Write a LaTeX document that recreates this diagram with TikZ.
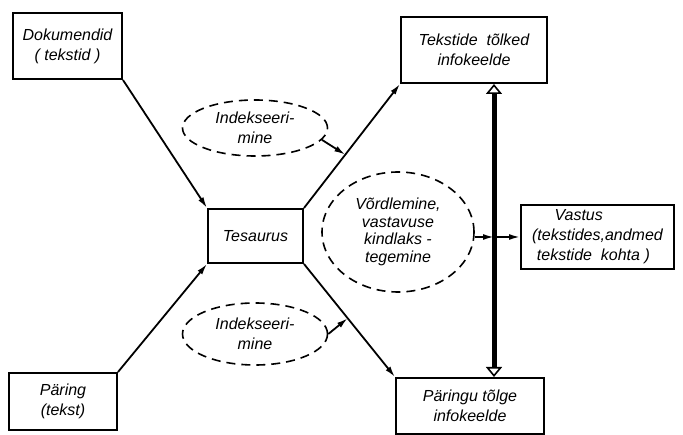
\documentclass[tikz,border=0pt]{standalone}
\usepackage{fontspec}
\setmainfont{Liberation Sans}
\usetikzlibrary{shapes.geometric}
\usetikzlibrary{arrows.meta}

\begin{document}
\begin{tikzpicture}[x=1pt,y=-1pt,>={Latex[length=11pt,width=6pt]},
  box/.style={draw, line width=2pt, inner sep=0pt, align=center, font=\fontsize{16}{20}\selectfont\itshape},
  oval/.style={ellipse, draw, dash pattern=on 9pt off 6pt, line width=1.6pt, inner sep=0pt, align=center, font=\fontsize{16}{20}\selectfont\itshape},
  link/.style={->, line width=1.8pt},
  bus/.style={{Triangle[open,length=10pt,width=16pt,line width=1.6pt]}-{Triangle[open,length=10pt,width=16pt,line width=1.6pt]}, line width=5pt}]
			\useasboundingbox (0,0) rectangle (683,435);
			% Boxes
			\node[box, minimum width=109pt, minimum height=66pt] (dok) at (67.5,46) {Dokumendid\\( tekstid )};
			\node[box, minimum width=146pt, minimum height=66pt] (tt) at (474,50) {Tekstide\ \ tõlked\\infokeelde};
			\node[box, minimum width=95pt, minimum height=54pt] (tes) at (255.5,236) {Tesaurus};
			\node[box, minimum width=153pt, minimum height=64pt, align=left] (vs) at (597.5,237) {\hspace{1.4em}Vastus\\(tekstides,andmed\\\hspace{0.3em}tekstide\ \ kohta )};
			\node[box, minimum width=108pt, minimum height=57pt] (par) at (63,401.5) {Päring\\(tekst)};
			\node[box, minimum width=148pt, minimum height=56pt] (pt) at (470,406) {Päringu\ tõlge\\infokeelde};
			
			% Dashed ellipses
			\node[oval, minimum width=145pt, minimum height=56pt] (ie1) at (255,128) {Indekseeri-\\mine};
			\node[oval, minimum width=145pt, minimum height=62pt] (ie2) at (255,334) {Indekseeri-\\mine};
			\node[oval, minimum width=152pt, minimum height=120pt, font=\fontsize{16}{17.5}\selectfont\itshape] (ve) at (398,232) {Võrdlemine,\\vastavuse\\kindlaks -\\tegemine};
			
			% Connectors
			\coordinate (j) at (494,237);
			\draw[link] (dok.south east) -- (tes.north west);
			\draw[link] (par.north east) -- (tes.south west);
			\draw[link] (tes.north east) -- coordinate[pos=0.43] (u1) (tt.south west);
			\draw[link] (tes.south east) -- coordinate[pos=0.48] (u2) (pt.north west);
			\draw[link] (ie1.-10) -- (u1);
			\draw[link] (ie2.east) -- (u2);
			\draw[bus] (j |- tt.south) -- (j |- pt.north);
			\draw[link] (ve.east |- j) -- (j);
			\draw[link] (j) -- (vs.west);
			
\end{tikzpicture}
\end{document}
